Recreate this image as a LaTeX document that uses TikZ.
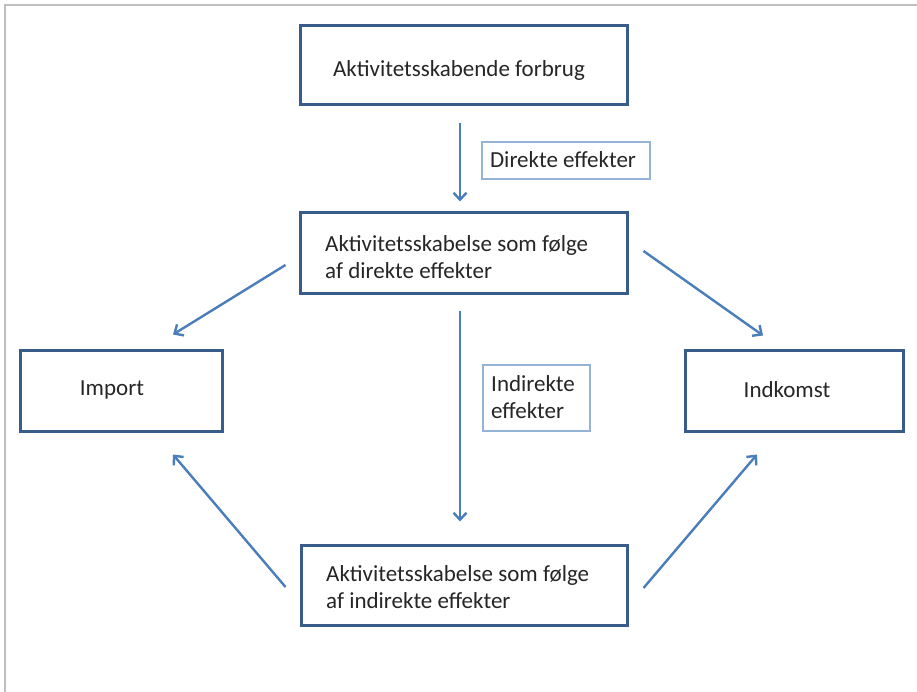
\documentclass[tikz,border=0pt]{standalone}
\usepackage{fontspec}
\setmainfont{Carlito}
\usetikzlibrary{arrows.meta,calc}
\definecolor{boxblue}{RGB}{56,93,138}
\definecolor{arrblue}{RGB}{74,126,187}
\definecolor{lblblue}{RGB}{149,179,215}
\definecolor{framegray}{RGB}{191,191,191}
\begin{document}
\begin{tikzpicture}[x=1pt,y=-1pt,
  box/.style={draw=boxblue,line width=3pt,fill=white,inner sep=0pt},
  lbl/.style={draw=lblblue,line width=1.1pt,inner sep=0pt},
  txt/.style={font=\fontsize{23}{27}\selectfont,inner sep=0pt,text=black!85},
  arr/.style={draw=arrblue,line width=2.4pt,-{Straight Barb[length=7pt,width=13pt,line width=2.4pt]}}]
\useasboundingbox (0,0) rectangle (917,692);
\fill[white] (0,0) rectangle (917,692);
\draw[framegray,line width=1.5pt] (917,5) -- (5,5) -- (5,692);
% boxes
\node[box,minimum width=327pt,minimum height=79pt] (top) at (463.5,65.5) {};
\node[box,minimum width=327pt,minimum height=80pt] (mid) at (463.5,253) {};
\node[box,minimum width=202pt,minimum height=81pt] (imp) at (121,390.5) {};
\node[box,minimum width=218pt,minimum height=81pt] (ind) at (794,390.5) {};
\node[box,minimum width=326pt,minimum height=80pt] (bot) at (464,585) {};
% texts
\node[txt] (toptxt) at (459,70) {Aktivitetsskabende forbrug};
\node[txt,anchor=west,align=left] (midtxt) at (325,257) {Aktivitetsskabelse som følge\\af direkte effekter};
\node[txt] (imptxt) at (112,390) {Import};
\node[txt] (indtxt) at (787,390) {Indkomst};
\node[txt,anchor=west,align=left] (bottxt) at (326,587) {Aktivitetsskabelse som følge\\af indirekte effekter};
% labels
\node[lbl,minimum width=168pt,minimum height=37pt] (dir) at (566,160.5) {};
\node[txt] (dirtxt) at (563,160) {Direkte effekter};
\node[lbl,minimum width=107pt,minimum height=66pt] (indir) at (536.5,398) {};
\node[txt,anchor=west,align=left] (indirtxt) at (491,397) {Indirekte\\effekter};
% arrows
\draw[arr] ([xshift=-3.5pt,yshift=-17pt]top.south) -- ([xshift=-3.5pt,yshift=10pt]mid.north);
\draw[arr] ([xshift=-3.5pt,yshift=-16pt]mid.south) -- ([xshift=-4pt,yshift=22pt]bot.north);
\draw[arr] ($(mid.west)+(-13,12)$) -- ($(imp.north)+(52,-14)$);
\draw[arr] ($(mid.east)+(15,-2)$) -- ($(ind.north)+(-31,-13)$);
\draw[arr] ($(bot.west)+(-14,2)$) -- ($(imp.south)+(52,22)$);
\draw[arr] ($(bot.east)+(15,3)$) -- ($(ind.south)+(-37,22)$);
\end{tikzpicture}
\end{document}
